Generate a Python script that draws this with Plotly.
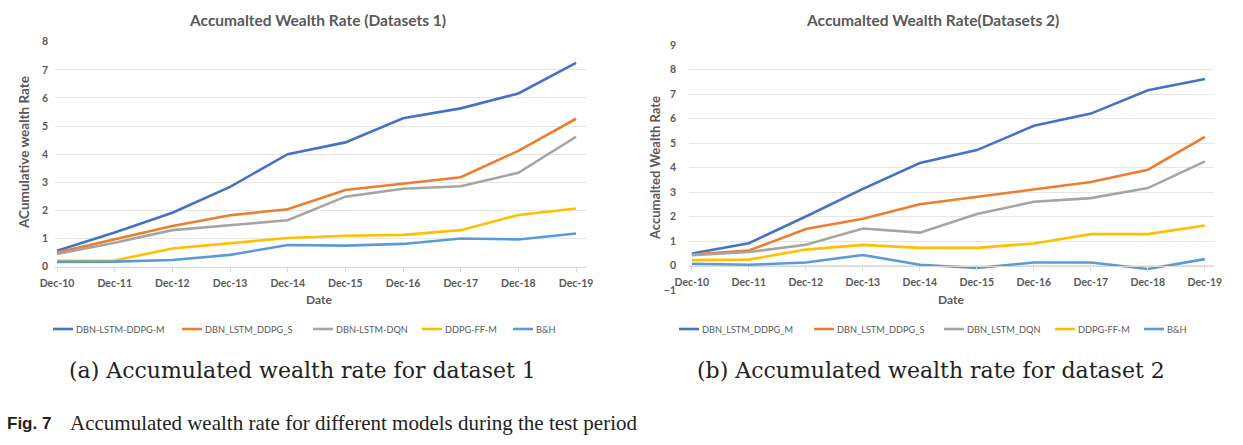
import plotly.graph_objects as go

W, H = 1243, 445

dates = ["Dec-10", "Dec-11", "Dec-12", "Dec-13", "Dec-14",
         "Dec-15", "Dec-16", "Dec-17", "Dec-18", "Dec-19"]

# Dataset 1
names_1 = ["DBN-LSTM-DDPG-M", "DBN_LSTM_DDPG_S", "DBN-LSTM-DQN", "DDPG-FF-M", "B&H"]
d1_ddpg_m = [0.57, 1.22, 1.92, 2.84, 4.00, 4.42, 5.28, 5.63, 6.16, 7.25]
d1_ddpg_s = [0.50, 0.97, 1.45, 1.83, 2.04, 2.73, 2.96, 3.18, 4.12, 5.26]
d1_dqn = [0.45, 0.85, 1.30, 1.48, 1.65, 2.49, 2.77, 2.86, 3.34, 4.62]
d1_ff_m = [0.21, 0.22, 0.65, 0.83, 1.02, 1.10, 1.13, 1.30, 1.84, 2.07]
d1_bh = [0.17, 0.18, 0.24, 0.42, 0.77, 0.75, 0.81, 1.00, 0.97, 1.18]

# Dataset 2
names_2 = ["DBN_LSTM_DDPG_M", "DBN_LSTM_DDPG_S", "DBN_LSTM_DQN", "DDPG-FF-M", "B&H"]
d2_ddpg_m = [0.49, 0.91, 2.00, 3.13, 4.18, 4.71, 5.70, 6.20, 7.15, 7.61]
d2_ddpg_s = [0.45, 0.61, 1.49, 1.91, 2.50, 2.81, 3.09, 3.41, 3.91, 5.25]
d2_dqn = [0.42, 0.55, 0.85, 1.51, 1.34, 2.10, 2.60, 2.75, 3.16, 4.25]
d2_ff_m = [0.22, 0.24, 0.65, 0.84, 0.72, 0.72, 0.90, 1.28, 1.28, 1.63]
d2_bh = [0.07, 0.03, 0.12, 0.43, 0.03, -0.10, 0.12, 0.12, -0.14, 0.26]

colors = ["#4472C4", "#ED7D31", "#A5A5A5", "#FFC000", "#5B9BD5"]


def px(x):
    return x / W


def py(y):
    return 1 - y / H


TXT = "#595959"
FONT = "Lato"

fig = go.Figure()

series_1 = [d1_ddpg_m, d1_ddpg_s, d1_dqn, d1_ff_m, d1_bh]
series_2 = [d2_ddpg_m, d2_ddpg_s, d2_dqn, d2_ff_m, d2_bh]

for name, vals, col in zip(names_1, series_1, colors):
    fig.add_trace(go.Scatter(x=dates, y=vals, name=name, mode="lines",
                             line=dict(color=col, width=2.6),
                             xaxis="x", yaxis="y", showlegend=False))
for name, vals, col in zip(names_2, series_2, colors):
    fig.add_trace(go.Scatter(x=dates, y=vals, name=name, mode="lines",
                             line=dict(color=col, width=2.6),
                             xaxis="x2", yaxis="y2", showlegend=False))

tickfont = dict(family=FONT, size=10.5, color=TXT, weight="bold")

xcommon = dict(type="category", showgrid=False, showline=True, linecolor="#D9D9D9",
               linewidth=1, ticks="outside", ticklen=4, tickcolor="#D9D9D9",
               tickfont=tickfont, zeroline=False, fixedrange=True,
               ticklabelstandoff=3)
ycommon = dict(showgrid=True, gridcolor="#E6E6E6", gridwidth=1, zeroline=False,
               showline=False, ticks="", tickfont=tickfont, dtick=1, fixedrange=True)

fig.update_layout(
    width=W, height=H,
    margin=dict(l=0, r=0, t=0, b=0, autoexpand=False),
    paper_bgcolor="white", plot_bgcolor="white",
    xaxis=dict(domain=[px(55), px(587)], range=[-0.035, 9.19], anchor="y", **xcommon),
    yaxis=dict(domain=[py(266.7), py(41.7)], range=[0, 8], anchor="x",
               ticklabelstandoff=6, **ycommon),
    xaxis2=dict(domain=[px(689), px(1214)], range=[-0.05, 9.16], anchor="free",
                position=py(265.5), **xcommon),
    yaxis2=dict(domain=[py(290), py(45)], range=[-1, 9], anchor="x2",
                ticklabelstandoff=12, **ycommon),
    showlegend=False,
)

ann = []
shapes = []
bold = dict(family=FONT, color=TXT, weight="bold")
ann.append(dict(text="Accumalted Wealth Rate (Datasets 1)", x=px(317), y=py(20),
                font=dict(size=15.5, **bold)))
ann.append(dict(text="Accumalted Wealth Rate(Datasets 2)", x=px(932), y=py(20),
                font=dict(size=15.5, **bold)))
ann.append(dict(text="ACumulative wealth Rate", x=px(24), y=py(153), textangle=-90,
                font=dict(size=13.5, **bold)))
ann.append(dict(text="Accumalted Wealth Rate", x=px(655), y=py(168), textangle=-90,
                font=dict(size=13, **bold)))
ann.append(dict(text="Date", x=px(319), y=py(299), font=dict(size=12, **bold)))
ann.append(dict(text="Date", x=px(951), y=py(299), font=dict(size=12, **bold)))

# legends (drawn as short line keys + labels)
leg_y = 329
leg_x1 = [53, 182, 313, 422, 513]
leg_x2 = [679, 814, 944, 1055, 1144]
for names, starts in ((names_1, leg_x1), (names_2, leg_x2)):
    for name, col, x0 in zip(names, colors, starts):
        shapes.append(dict(type="line", xref="paper", yref="paper",
                           x0=px(x0), x1=px(x0 + 20), y0=py(leg_y), y1=py(leg_y),
                           line=dict(color=col, width=2.6)))
        ann.append(dict(text=name, x=px(x0 + 21), y=py(leg_y), xanchor="left",
                        font=dict(family=FONT, size=9.2, color=TXT)))

ann.append(dict(text="(a) Accumulated wealth rate for dataset 1", x=px(302), y=py(370),
                font=dict(family="DejaVu Serif", size=22, color="#222222")))
ann.append(dict(text="(b) Accumulated wealth rate for dataset 2", x=px(931), y=py(370),
                font=dict(family="DejaVu Serif", size=22, color="#222222")))
ann.append(dict(text="<b>Fig. 7</b>", x=px(5), y=py(423), xanchor="left",
                font=dict(family="Liberation Sans", size=17, color="#222222")))
ann.append(dict(text="Accumulated wealth rate for different models during the test period",
                x=px(68), y=py(423), xanchor="left",
                font=dict(family="Liberation Serif", size=21, color="#222222")))

for a in ann:
    a.setdefault("xanchor", "center")
    a.update(xref="paper", yref="paper", yanchor="middle", showarrow=False)
fig.update_layout(annotations=ann, shapes=shapes)

fig.write_html("out.html",
               config={"displayModeBar": False, "staticPlot": True},
               post_script="document.body.style.margin='0';"
                           "document.body.style.overflow='hidden';")
